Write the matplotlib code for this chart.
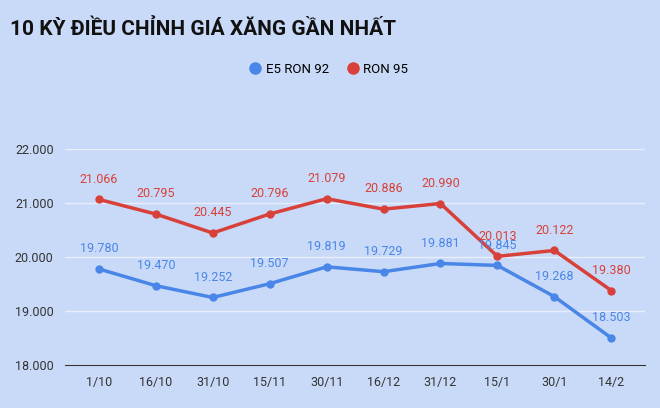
import matplotlib
matplotlib.use("Agg")
import matplotlib.pyplot as plt

dates = ["1/10","16/10","31/10","15/11","30/11","16/12","31/12","15/1","30/1","14/2"]
e5 = [19780,19470,19252,19507,19819,19729,19881,19845,19268,18503]
ron95 = [21066,20795,20445,20796,21079,20886,20990,20013,20122,19380]

def fmt(v):
    return f"{v:,}".replace(",", ".")

plt.rcParams['font.family'] = ['Roboto', 'DejaVu Sans']
bg = "#c9daf8"
fig = plt.figure(figsize=(6.6, 4.08), dpi=100, facecolor=bg)
ax = fig.add_axes([0.098, 0.105, 0.88, 0.53], facecolor=bg)
blue, red = "#4a86e8", "#d8413a"
x = list(range(len(dates)))
ax.plot(x, e5, color=blue, lw=2.5, marker='o', ms=5, label="E5 RON 92")
ax.plot(x, ron95, color=red, lw=2.5, marker='o', ms=5, label="RON 95")
for i in x:
    ax.annotate(fmt(e5[i]), (i, e5[i]), xytext=(0, 12), textcoords='offset points', ha='center', color=blue, fontsize=9)
    ax.annotate(fmt(ron95[i]), (i, ron95[i]), xytext=(0, 12), textcoords='offset points', ha='center', color=red, fontsize=9)
ax.set_ylim(18000, 22000)
ax.set_yticks([18000,19000,20000,21000,22000])
ax.set_yticklabels([fmt(v) for v in [18000,19000,20000,21000,22000]], fontsize=9, color="#333333")
ax.set_xlim(-0.6, 9.6)
ax.set_xticks(x)
ax.set_xticklabels(dates, fontsize=9, color="#333333")
ax.grid(axis='y', color='#e8eefa', lw=1)
ax.set_axisbelow(True)
for s in ax.spines.values():
    s.set_visible(False)
ax.spines['bottom'].set_visible(True)
ax.spines['bottom'].set_color('#333333')
ax.tick_params(length=0, pad=8)
fig.legend(loc='center', bbox_to_anchor=(0.5, 0.83), ncol=2, frameon=False, fontsize=9.5,
           handlelength=0.6, markerscale=1.6, handletextpad=0.5, columnspacing=1.5)
for h in fig.legends[0].legend_handles:
    h.set_linestyle('none')
fig.text(0.015, 0.915, "10 KỲ ĐIỀU CHỈNH GIÁ XĂNG GẦN NHẤT", fontsize=15, fontweight='bold', color='#111111')
fig.savefig("out.png", dpi=100, facecolor=bg)
